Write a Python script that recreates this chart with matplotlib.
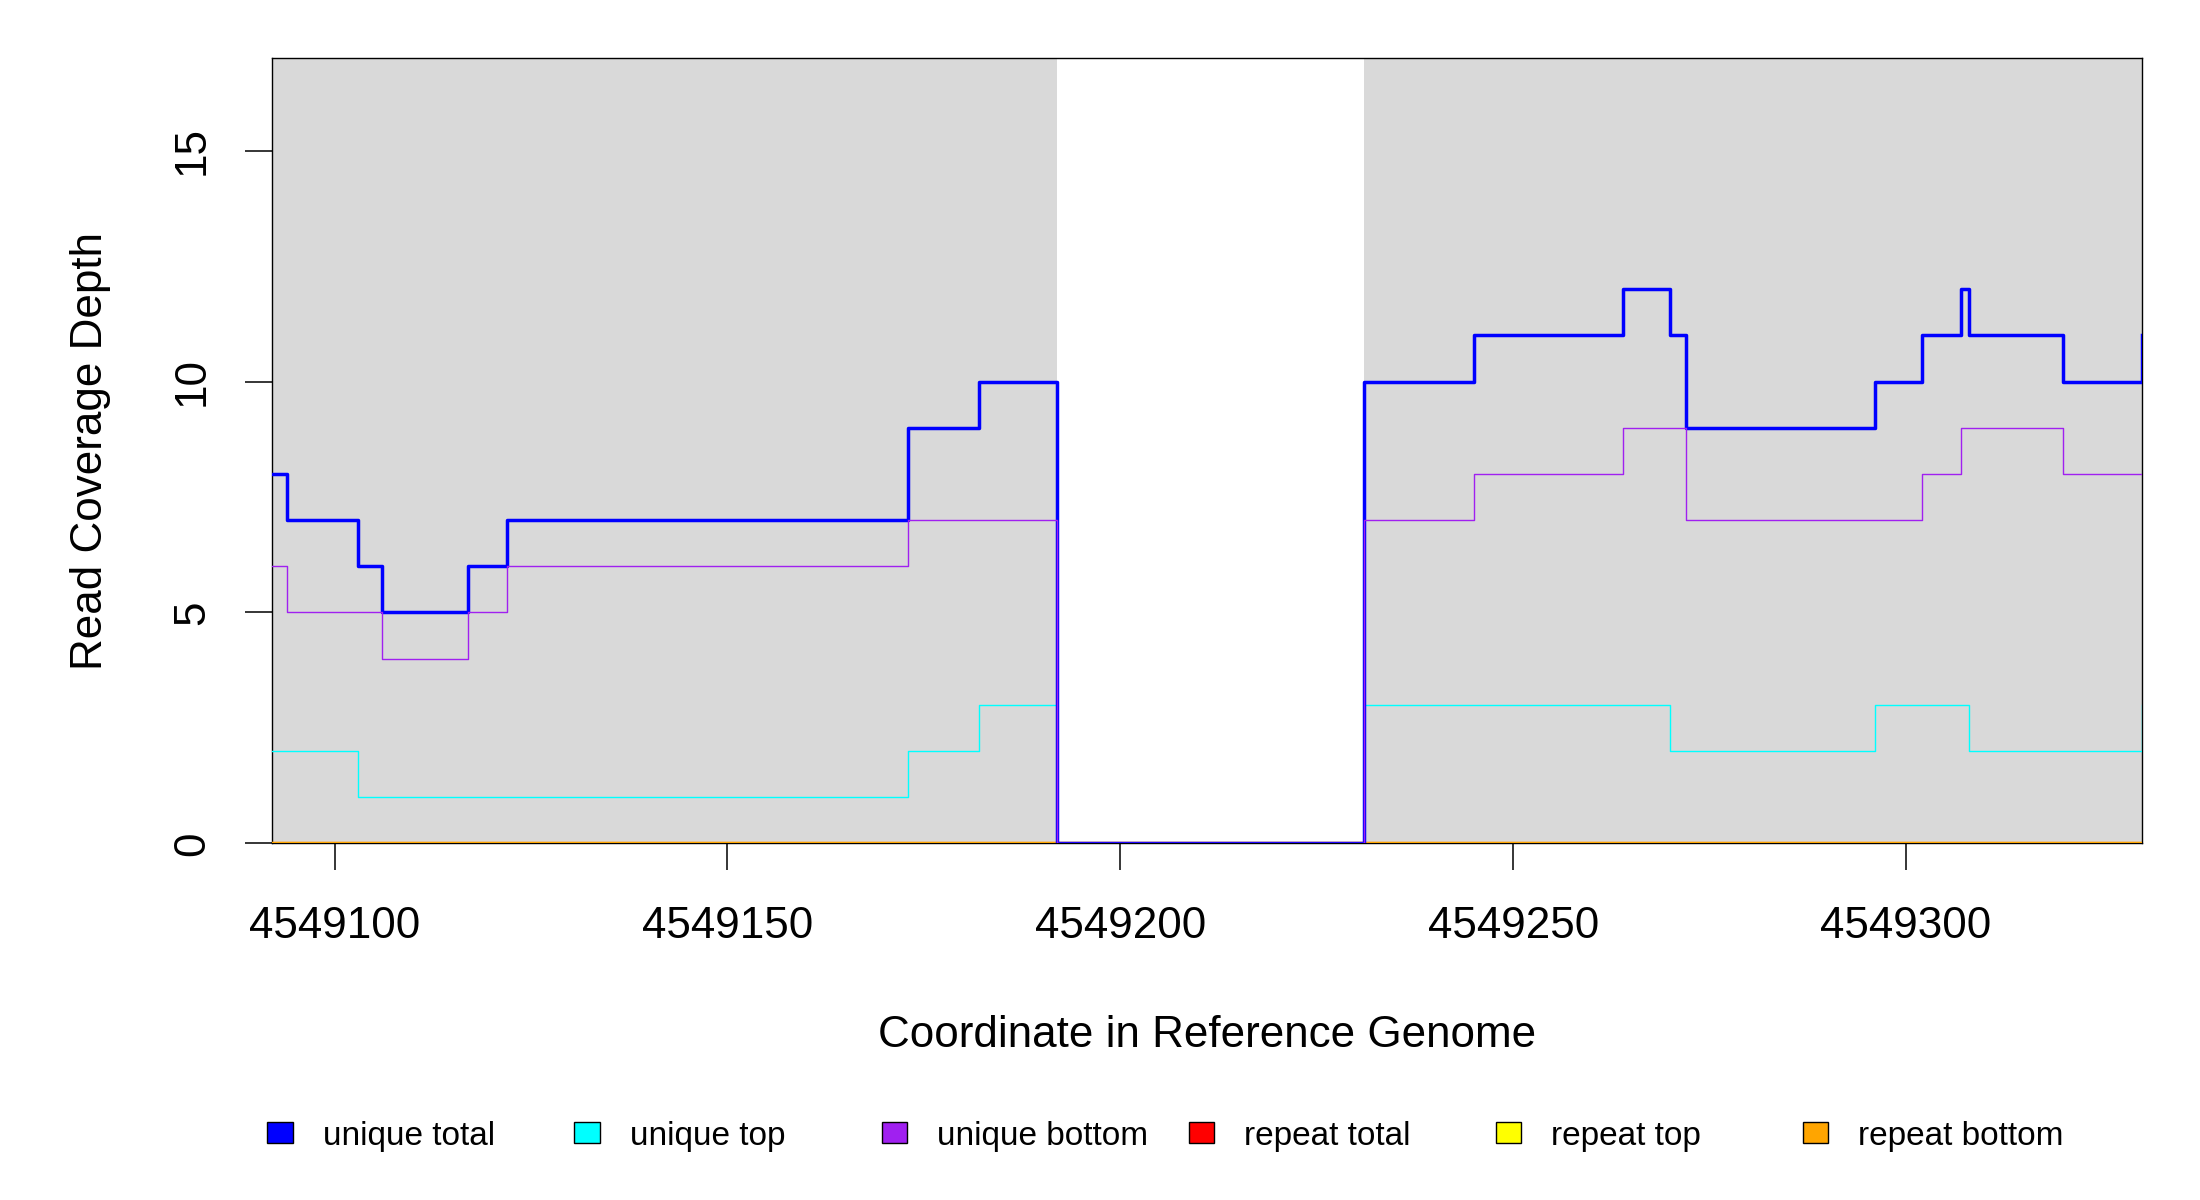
import numpy as np
import matplotlib
matplotlib.use('Agg')
import matplotlib.pyplot as plt
from matplotlib.patches import Rectangle

plt.rcParams['font.family'] = ['Liberation Sans', 'DejaVu Sans']

# segment start coordinates and coverage values (step plot, value holds until next start)
positions = [4549092, 4549094, 4549103, 4549106, 4549117, 4549122, 4549173, 4549182,
             4549192, 4549231, 4549245, 4549264, 4549270, 4549272, 4549296, 4549302,
             4549307, 4549308, 4549320, 4549330]
unique_total = [8, 7, 6, 5, 6, 7, 9, 10, 0, 10, 11, 12, 11, 9, 10, 11, 12, 11, 10, 11]
unique_top = [2, 2, 1, 1, 1, 1, 2, 3, 0, 3, 3, 3, 2, 2, 3, 3, 3, 2, 2, 3]
unique_bottom = [6, 5, 5, 4, 5, 6, 7, 7, 0, 7, 8, 9, 9, 7, 7, 8, 9, 9, 8, 8]
repeat_total = [0] * len(positions)
repeat_top = [0] * len(positions)
repeat_bottom = [0] * len(positions)

# shaded regions
regions = [(4549092, 4549192), (4549231, 4549330)]

labels = ['unique total', 'unique top', 'unique bottom', 'repeat total', 'repeat top', 'repeat bottom']
colors = ['#0000FF', '#00FFFF', '#A020F0', '#FF0000', '#FFFF00', '#FFA500']

x_ticks = [4549100, 4549150, 4549200, 4549250, 4549300]
y_ticks = [0, 5, 10, 15]

W, H = 2200, 1200
fig = plt.figure(figsize=(22, 12), dpi=100)
ax = fig.add_axes([271.7 / W, 1 - 843.3 / H, (2141.7 - 271.7) / W, (843.3 - 58.3) / H])

for a, b in regions:
    ax.axvspan(a, b, color='#D9D9D9', lw=0, zorder=0)

for s in ax.spines.values():
    s.set_linewidth(1.0)
    s.set_zorder(1)

# repeats first (all zero), unique lines on top
series = [unique_total, unique_top, unique_bottom, repeat_total, repeat_top, repeat_bottom]
widths = [2.5, 1.0, 1.0, 1.6, 1.6, 1.6]
order = [3, 4, 5, 1, 0, 2]
for z, i in enumerate(order):
    ax.step(positions, series[i], where='post', color=colors[i], lw=widths[i], zorder=2 + z)

ax.set_xlim(positions[0], positions[-1])
ax.set_ylim(0, 17)
ax.set_xticks(x_ticks)
ax.set_xticklabels([str(t) for t in x_ticks])
ax.set_yticks(y_ticks)
ax.set_yticklabels([str(t) for t in y_ticks], rotation=90, va='center')
ax.tick_params(length=19.2, width=1.1, labelsize=31.7)
ax.tick_params(axis='x', pad=26)
ax.tick_params(axis='y', pad=23)

fig.text(1206.7 / W, 1 - 1046.7 / H, 'Coordinate in Reference Genome', ha='center', va='baseline', fontsize=31.7)
fig.text(91 / W, 1 - 450.8 / H, 'Read Coverage Depth', ha='center', va='center', rotation=90, fontsize=31.7)

# legend row along the bottom
for i, lab in enumerate(labels):
    x0 = 267.3 + i * 307.1
    fig.patches.append(Rectangle((x0 / W, 1 - 1143 / H), 25.4 / W, 21 / H, transform=fig.transFigure,
                                 facecolor=colors[i], edgecolor='black', lw=1.0))
    fig.text((x0 + 55.4) / W, 1 - 1145 / H, lab, ha='left', va='baseline', fontsize=24)

fig.savefig('out.png', dpi=100)
